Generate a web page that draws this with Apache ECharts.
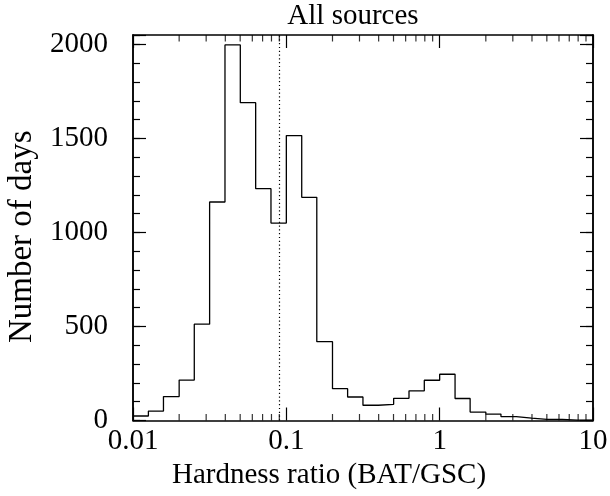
<!DOCTYPE html>
<html>
<head>
<meta charset="utf-8">
<script src="https://cdn.jsdelivr.net/npm/echarts@6/dist/echarts.min.js"></script>
<style>
    html, body { margin: 0; padding: 0; background: #fff; }
    #main { width: 610px; height: 496px; }
</style>
</head>
<body>
<div id="main"></div>
<script>
// 直方图数据（0.1 dex 宽的分箱）
var binEdges = [0.01, 0.0126, 0.0158, 0.02, 0.0251, 0.0316, 0.0398, 0.0501, 0.0631, 0.0794,
    0.1, 0.126, 0.158, 0.2, 0.251, 0.316, 0.398, 0.501, 0.631, 0.794,
    1, 1.26, 1.58, 2, 2.51, 3.16, 3.98, 5.01, 6.31, 7.94, 10];
var dayCounts = [24, 50, 127, 215, 512, 1162, 1997, 1690, 1233, 1050,
    1515, 1187, 419, 169, 125, 81, 86, 118, 158, 214,
    246, 117, 45, 34, 21, 13, 6, 6, 2, 2];
var cutValue = 0.09; // 竖直虚线位置

// 刻度
var xMinorTicks = [0.02, 0.03, 0.04, 0.05, 0.06, 0.07, 0.08, 0.09,
    0.2, 0.3, 0.4, 0.5, 0.6, 0.7, 0.8, 0.9,
    2, 3, 4, 5, 6, 7, 8, 9];
var yMajorTicks = [0, 500, 1000, 1500, 2000];
var yMin = 0, yMax = 2050;

(function () {
    var myChart = echarts.init(document.getElementById("main"));
    var font = 'Liberation Serif';
    var black = '#000';

    // 阶梯线：每个分箱取左右两个边界
    var stepData = [];
    for (var i = 0; i < dayCounts.length; i++) {
        stepData.push([binEdges[i], dayCounts[i]]);
        stepData.push([binEdges[i + 1], dayCounts[i]]);
    }
    stepData.push([binEdges[binEdges.length - 1], 0]);

    // x轴次刻度（上下两边）
    var minorBottom = xMinorTicks.map(function (v) { return [v, yMin]; });
    var minorTop = xMinorTicks.map(function (v) { return [v, yMax]; });

    function xAxisOf(pos, showLabel, showName) {
        return {
            type: 'log', logBase: 10, min: 0.01, max: 10, position: pos,
            axisLine: { show: true, onZero: false, lineStyle: { color: black, width: 1.5 } },
            axisTick: { show: true, inside: true, length: 13, lineStyle: { color: black, width: 1.2 } },
            axisLabel: { show: showLabel, margin: 6, color: black, fontFamily: font, fontSize: 29 },
            splitLine: { show: false },
            name: showName ? 'Hardness ratio (BAT/GSC)' : '',
            nameLocation: 'middle',
            nameGap: 40,
            nameTextStyle: { color: black, fontFamily: font, fontSize: 29, padding: [0, 68, 0, 0] }
        };
    }
    function yAxisOf(pos, interval, len, showLabel, showName) {
        return {
            type: 'value', min: yMin, max: yMax, interval: interval, position: pos,
            axisLine: { show: true, onZero: false, lineStyle: { color: black, width: 1.5 } },
            axisTick: { show: true, inside: true, length: len, lineStyle: { color: black, width: 1.2 } },
            axisLabel: { show: showLabel, customValues: yMajorTicks, margin: 25,
                color: black, fontFamily: font, fontSize: 29,
                formatter: function (v) { return String(v); } },
            splitLine: { show: false },
            name: showName ? 'Number of days' : '',
            nameLocation: 'middle',
            nameGap: 80,
            nameTextStyle: { color: black, fontFamily: font, fontSize: 33, padding: [0, 18, 0, 0] }
        };
    }

    var option = {
        animation: false,
        backgroundColor: '#fff',
        title: {
            text: 'All sources',
            left: 348, top: -3, textAlign: 'center',
            textStyle: { color: black, fontFamily: font, fontSize: 29, fontWeight: 'normal' }
        },
        grid: { left: 133, right: 17, top: 35, bottom: 75.5, containLabel: false, outerBoundsMode: 'none' },
        xAxis: [
            xAxisOf('bottom', true, true),
            xAxisOf('top', false, false)
        ],
        yAxis: [
            yAxisOf('left', 500, 13, true, true),
            yAxisOf('left', 100, 7, false, false),
            yAxisOf('right', 500, 13, false, false),
            yAxisOf('right', 100, 7, false, false)
        ],
        series: [{
            type: 'line',
            xAxisIndex: 0,
            yAxisIndex: 0,
            data: stepData,
            showSymbol: false,
            lineStyle: { color: black, width: 1.3 },
            markLine: {
                silent: true,
                symbol: ['none', 'none'],
                label: { show: false },
                lineStyle: { color: black, width: 1.2, type: [1.2, 2.6] },
                data: [[{ coord: [cutValue, yMin] }, { coord: [cutValue, yMax] }]]
            }
        }, {
            // 下边的对数次刻度
            type: 'scatter',
            data: minorBottom,
            symbol: 'rect',
            symbolSize: [1.2, 6.5],
            symbolOffset: [0, -3.25],
            clip: false,
            itemStyle: { color: black },
            silent: true
        }, {
            // 上边的对数次刻度
            type: 'scatter',
            data: minorTop,
            symbol: 'rect',
            symbolSize: [1.2, 6.5],
            symbolOffset: [0, 3.25],
            clip: false,
            itemStyle: { color: black },
            silent: true
        }]
    };

    myChart.setOption(option);
})();
</script>
</body>
</html>
